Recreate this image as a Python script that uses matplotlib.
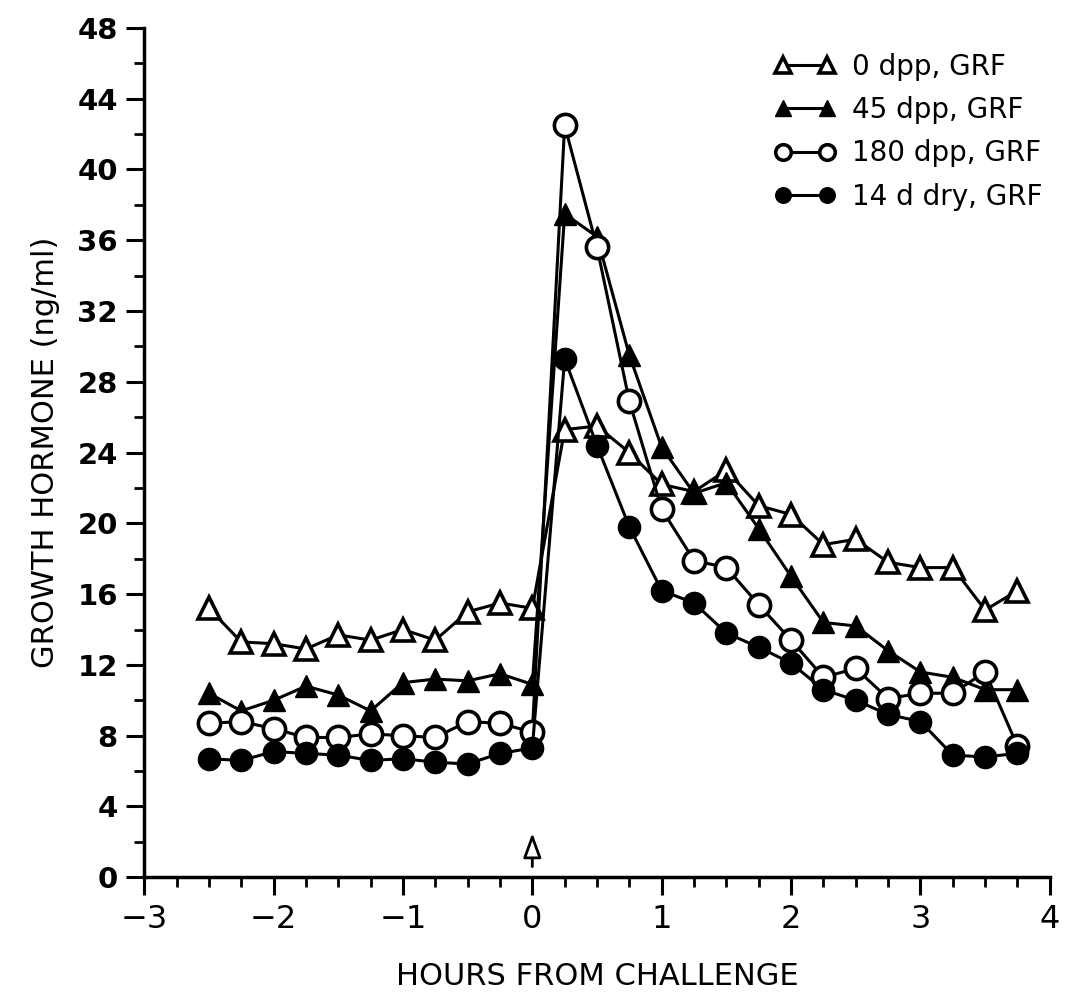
import matplotlib
matplotlib.use("Agg")
import matplotlib.pyplot as plt
from matplotlib.ticker import MultipleLocator

# hours from challenge
hours = [-2.5, -2.25, -2.0, -1.75, -1.5, -1.25, -1.0, -0.75, -0.5, -0.25, 0.0,
         0.25, 0.5, 0.75, 1.0, 1.25, 1.5, 1.75, 2.0, 2.25, 2.5, 2.75, 3.0, 3.25, 3.5, 3.75]

gh_0dpp = [15.2, 13.3, 13.2, 12.9, 13.7, 13.4, 14.0, 13.4, 15.0, 15.5, 15.2,
           25.3, 25.5, 24.0, 22.2, 21.8, 23.0, 21.0, 20.5, 18.8, 19.1, 17.8, 17.5, 17.5, 15.1, 16.2]
gh_45dpp = [10.4, 9.4, 10.0, 10.8, 10.3, 9.4, 11.0, 11.2, 11.1, 11.5, 10.9,
            37.5, 36.2, 29.5, 24.3, 21.7, 22.3, 19.7, 17.0, 14.4, 14.2, 12.8, 11.6, 11.3, 10.6, 10.6]
gh_180dpp = [8.7, 8.8, 8.4, 7.9, 7.9, 8.1, 8.0, 7.9, 8.8, 8.7, 8.2,
             42.5, 35.6, 26.9, 20.8, 17.9, 17.5, 15.4, 13.4, 11.3, 11.8, 10.1, 10.4, 10.4, 11.6, 7.4]
gh_dry = [6.7, 6.6, 7.1, 7.0, 6.9, 6.6, 6.7, 6.5, 6.4, 7.0, 7.3,
          29.3, 24.4, 19.8, 16.2, 15.5, 13.8, 13.0, 12.1, 10.6, 10.0, 9.2, 8.8, 6.9, 6.8, 7.0]

labels = ["0 dpp, GRF", "45 dpp, GRF", "180 dpp, GRF", "14 d dry, GRF"]

# challenge arrow (tip / tail heights)
arrow_x = 0.0
arrow_tip = 2.5
arrow_tail = 0.6

fig = plt.figure(figsize=(10.68, 9.98), dpi=100)
ax = fig.add_axes([0.135, 0.121, 0.848, 0.851])

lw = 2.2
ax.plot(hours, gh_0dpp, color="black", lw=lw, marker="^", ms=16, mfc="white", mec="black", mew=2.6, label=labels[0])
ax.plot(hours, gh_45dpp, color="black", lw=lw, marker="^", ms=16, mfc="black", mec="black", label=labels[1])
ax.plot(hours, gh_180dpp, color="black", lw=lw, marker="o", ms=16, mfc="white", mec="black", mew=2.6, label=labels[2])
ax.plot(hours, gh_dry, color="black", lw=lw, marker="o", ms=16, mfc="black", mec="black", label=labels[3])

ax.annotate("", xy=(arrow_x, arrow_tip), xytext=(arrow_x, arrow_tail),
            arrowprops=dict(arrowstyle="-|>,head_length=1.5,head_width=0.55", fc="white", ec="black",
                            lw=2.0, shrinkA=0, shrinkB=0))

ax.set_xlim(-3, 4)
ax.set_ylim(0, 48)
ax.xaxis.set_major_locator(MultipleLocator(1))
ax.xaxis.set_minor_locator(MultipleLocator(0.25))
ax.yaxis.set_major_locator(MultipleLocator(4))
ax.yaxis.set_minor_locator(MultipleLocator(2))

for s in ["top", "right"]:
    ax.spines[s].set_visible(False)
for s in ["left", "bottom"]:
    ax.spines[s].set_linewidth(2.5)

ax.tick_params(axis="both", which="major", direction="out", width=2.2, length=13, pad=6)
ax.tick_params(axis="both", which="minor", direction="out", width=2.0, length=7)
ax.tick_params(axis="y", labelsize=21)
ax.tick_params(axis="x", labelsize=23)
for t in ax.get_yticklabels():
    t.set_fontweight("bold")
ax.set_xticks(range(-3, 5))
ax.set_xticklabels(["\u22123", "\u22122", "\u22121", "0", "1", "2", "3", "4"])

ax.set_xlabel("HOURS FROM CHALLENGE", fontsize=22, labelpad=20)
ax.set_ylabel("GROWTH HORMONE (ng/ml)", fontsize=22, labelpad=12)

leg = ax.legend(loc="upper right", bbox_to_anchor=(1.02, 1.0), frameon=False, fontsize=20,
                numpoints=2, handlelength=2.2, markerscale=0.7, labelspacing=0.55, handletextpad=0.6)

fig.savefig("out.png", dpi=100)
